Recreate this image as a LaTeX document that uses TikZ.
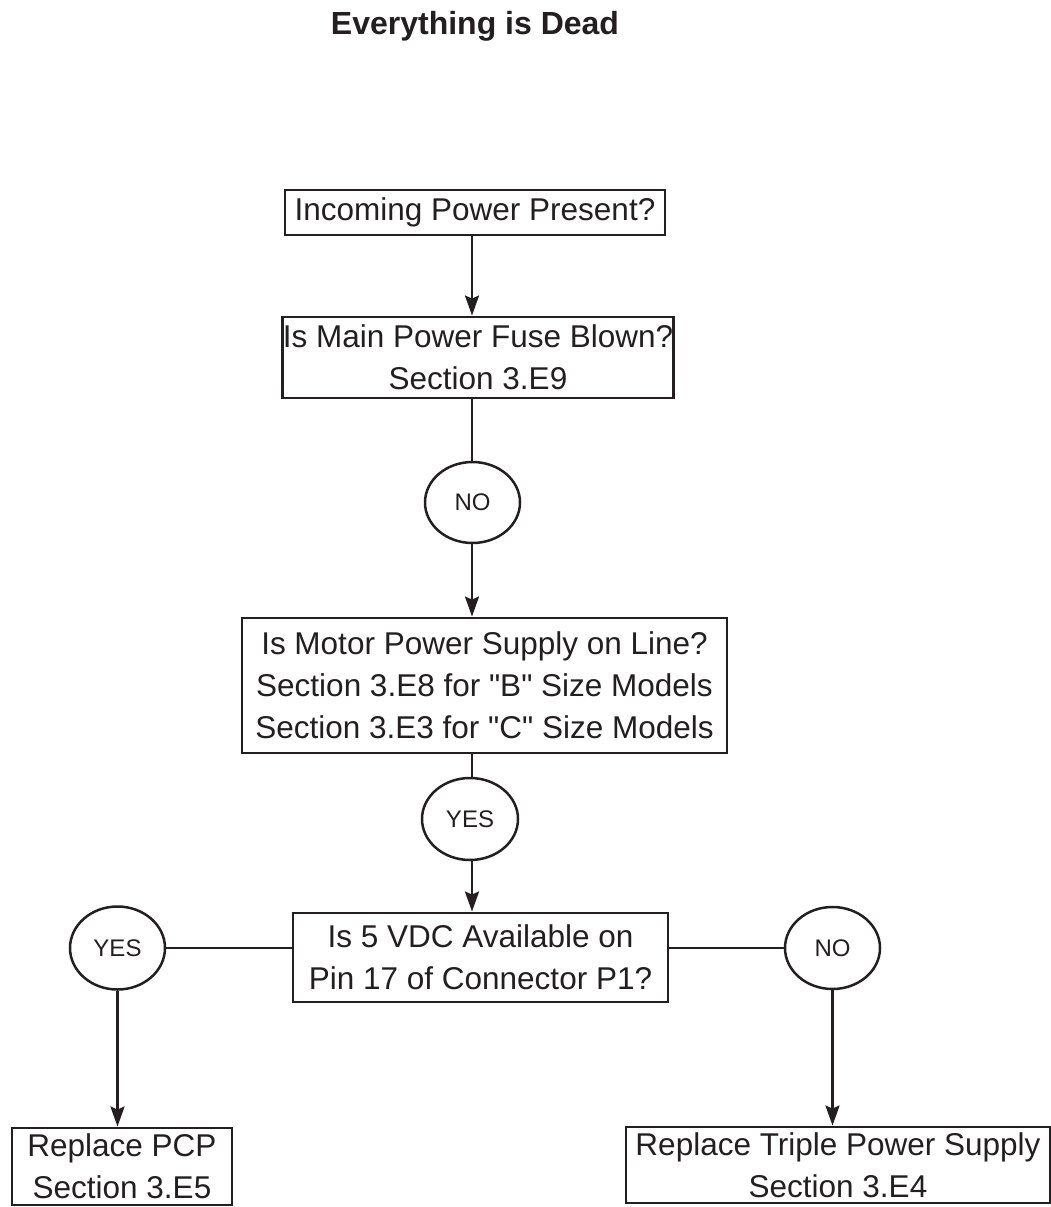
\documentclass[tikz,border=0pt]{standalone}
\usepackage{fontspec}
\setmainfont{Liberation Sans}
\usetikzlibrary{shapes.geometric,arrows.meta}
\definecolor{ink}{RGB}{35,31,32}
\tikzset{
  every node/.style={text=ink},
  box/.style={draw=ink, line width=2.9pt, rectangle, inner sep=0pt, align=center,
    font=\fontsize{31.5}{42}\selectfont},
  answer/.style={draw=ink, line width=2.5pt, ellipse, inner sep=0pt,
    font=\fontsize{24}{28}\selectfont},
  flow/.style={draw=ink, line width=2.6pt},
  side/.style={draw=ink, line width=2pt},
  arrowflow/.style={flow, -{Stealth[length=20pt, width=14pt, inset=3pt]}},
}
\newcommand{\dq}{\textquotedbl}
\begin{document}
\begin{tikzpicture}[x=1pt, y=-1pt]
  \useasboundingbox (0,0) rectangle (1051,1207);

  % title
  \node[anchor=base, font=\fontsize{32}{38}\selectfont\bfseries] (title) at (475,35) {Everything is Dead};

  % main column of checks
  \node[box, minimum width=380pt, minimum height=45pt] (power) at (475,212.5) {Incoming Power Present?};
  \node[box, minimum width=390pt, minimum height=81pt] (fuse) at (478,357.5)
    {Is Main Power Fuse Blown?\\Section 3.E9};
  \node[answer, minimum width=95pt, minimum height=81pt] (no1) at (472.5,502.5) {NO};
  \node[box, minimum width=485pt, minimum height=135pt] (motor) at (484.5,685.5)
    {Is Motor Power Supply on Line?\\Section 3.E8 for \dq B\dq{} Size Models\\Section 3.E3 for \dq C\dq{} Size Models};
  \node[answer, minimum width=96pt, minimum height=82pt] (yes1) at (470,819) {YES};
  \node[box, minimum width=375pt, minimum height=89pt] (vdc) at (480.5,957.5)
    {Is 5 VDC Available on\\Pin 17 of Connector P1?};

  % branches
  \node[answer, minimum width=95pt, minimum height=83pt] (yes2) at (117.5,948) {YES};
  \node[answer, minimum width=95pt, minimum height=82pt] (no2) at (832.5,948) {NO};
  \node[box, minimum width=220pt, minimum height=77pt] (pcp) at (122,1166.5)
    {Replace PCP\\Section 3.E5};
  \node[box, minimum width=424pt, minimum height=76pt] (triple) at (838,1165)
    {Replace Triple Power Supply\\Section 3.E4};

  % connectors along the axis
  \coordinate (axis) at (472,0);
  \draw[arrowflow] (power.south -| axis) -- (fuse.north -| axis);
  \draw[flow] (fuse.south -| axis) -- (no1.north -| axis);
  \draw[arrowflow] (no1.south -| axis) -- (motor.north -| axis);
  \draw[flow] (motor.south -| axis) -- (yes1.north -| axis);
  \draw[arrowflow] (yes1.south -| axis) -- (vdc.north -| axis);

  % side branches
  \draw[side] (yes2.east) -- (yes2.east -| vdc.west);
  \draw[side] (no2.west) -- (no2.west -| vdc.east);
  \draw[arrowflow] (yes2.south) -- (yes2.south |- pcp.north);
  \draw[arrowflow] (no2.south) -- (no2.south |- triple.north);
\end{tikzpicture}
\end{document}
